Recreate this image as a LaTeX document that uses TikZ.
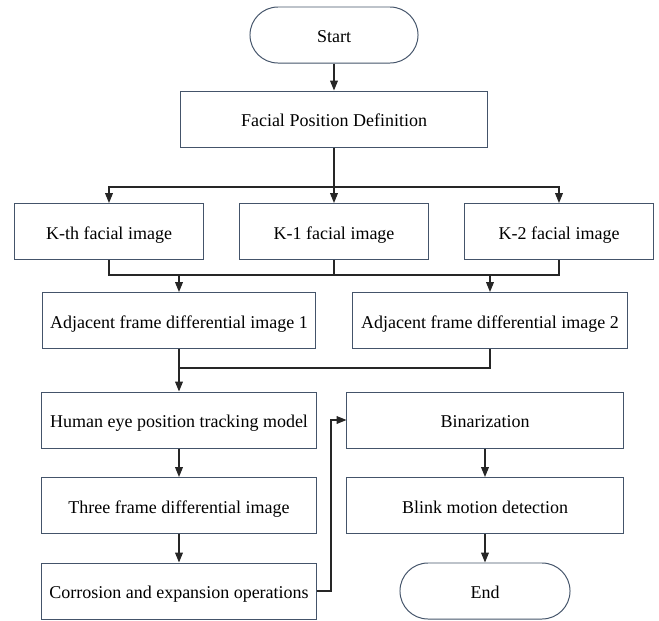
\documentclass[tikz,border=0pt]{standalone}
\usepackage{fontspec}
\setmainfont{Liberation Serif}
\newfontfamily\boxfont{Liberation Serif}
\usetikzlibrary{arrows.meta,positioning}
\definecolor{boxline}{RGB}{68,84,106}
\tikzset{
    %Define standard arrow tip
    >={Triangle[length=7pt,width=5.5pt]},
    %Define style for boxes
    punktrect/.style={
           rectangle,
           draw=boxline, line width=0.7pt,
           minimum height=1.4cm,
           text height=11.3pt, text depth=0pt,
           font=\boxfont\fontsize{12.8}{15}\selectfont,
           text centered},
    punktend/.style={
           punktrect,
           rounded corners=0.7cm},
    % Define arrow style
    pil/.style={
           ->,
           line width=0.8pt,
           draw=black!85}
}
\begin{document}
\begin{tikzpicture}[x=0.025cm,y=-0.025cm]
\useasboundingbox (0,0) rectangle (659,620);
 %nodes
\node[punktend, minimum width=4.2cm](start) at (334,35){Start};
\node[punktrect, minimum width=7.65cm](fpd) at (334,119){Facial Position Definition};
\node[punktrect, minimum width=4.7cm](kth) at (109,231.5){K-th facial image};
\node[punktrect, minimum width=4.7cm](k1) at (334,231.5){K-1 facial image};
\node[punktrect, minimum width=4.7cm](k2) at (559,231.5){K-2 facial image};
\node[punktrect, minimum width=6.8cm](adj1) at (179,320.5){Adjacent frame differential image 1};
\node[punktrect, minimum width=6.85cm](adj2) at (490,320.5){Adjacent frame differential image 2};
\node[punktrect, minimum width=6.875cm](eye) at (179,420){Human eye position tracking model};
\node[punktrect, minimum width=6.875cm](three) at (179,505.5){Three frame differential image};
\node[punktrect, minimum width=6.875cm](corr) at (179,591){Corrosion and expansion operations};
\node[punktrect, minimum width=6.9cm](bin) at (485,420){Binarization};
\node[punktrect, minimum width=6.9cm](blink) at (485,505.5){Blink motion detection};
\node[punktend, minimum width=4.25cm](end) at (485,591){End};
\coordinate (split) at (334,187);
\coordinate (join) at (334,275);
\coordinate (merge) at (179,368);
 %edges
\draw[pil] (start) -- (fpd);
\draw[pil] (fpd) -- (split) -| (kth);
\draw[pil] (split) -| (k2);
\draw[pil] (split) -- (k1);
\draw[pil, -] (kth) |- (join) -| (k2);
\draw[pil, -] (k1) -- (join);
\draw[pil] (adj1 |- join) -- (adj1);
\draw[pil] (adj2 |- join) -- (adj2);
\draw[pil, -] (adj2) |- (merge);
\draw[pil] (adj1) -- (eye);
\draw[pil] (eye) -- (three);
\draw[pil] (three) -- (corr);
\draw[pil] (corr.east) -- ++(14,0) |- (bin.west);
\draw[pil] (bin) -- (blink);
\draw[pil] (blink) -- (end);
\end{tikzpicture}
\end{document}
